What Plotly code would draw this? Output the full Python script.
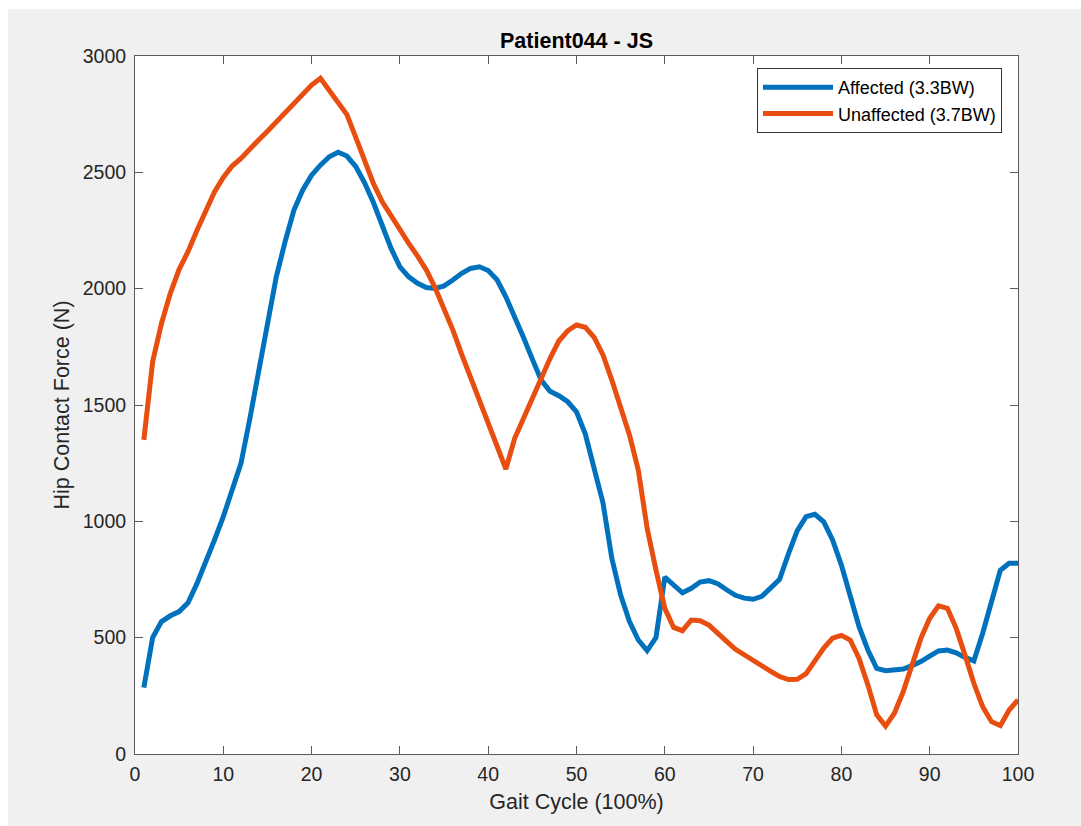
import plotly.graph_objects as go

gait = list(range(1, 101))

affected = [285, 500, 569, 594, 612, 650, 731, 819, 920, 1020,
            1132, 1249, 1440, 1650, 1851, 2051, 2202, 2338, 2424, 2488,
            2531, 2567, 2586, 2570, 2525, 2455, 2370, 2266, 2173, 2094,
            2051, 2023, 2005, 2001, 2012, 2037, 2066, 2087, 2094, 2078,
            2038, 1965, 1883, 1790, 1697, 1607, 1559, 1540, 1514, 1471,
            1375, 1229, 1079, 841, 683, 569, 490, 444, 500, 760,
            723, 693, 712, 739, 745, 732, 706, 682, 670, 665,
            678, 712, 751, 860, 960, 1020, 1030, 998, 920, 812,
            680, 547, 447, 368, 358, 361, 365, 380, 397, 421,
            443, 447, 435, 415, 400, 519, 654, 790, 820, 820]

unaffected = [1350, 1686, 1851, 1980, 2083, 2159, 2249, 2335, 2416, 2478,
              2527, 2560, 2603, 2639, 2677, 2717, 2760, 2800, 2839, 2875,
              2904, 2853, 2803, 2748, 2650, 2545, 2452, 2373, 2312, 2252,
              2195, 2140, 2080, 2003, 1916, 1822, 1718, 1621, 1521, 1428,
              1320, 1225, 1357, 1445, 1531, 1621, 1700, 1775, 1819, 1844,
              1834, 1791, 1715, 1607, 1492, 1371, 1220, 970, 791, 626,
              544, 530, 576, 573, 554, 522, 484, 450, 425, 404,
              380, 355, 333, 320, 321, 345, 400, 455, 498, 510,
              490, 411, 297, 168, 120, 175, 268, 390, 497, 583,
              637, 626, 540, 425, 304, 203, 139, 122, 189, 232]

x_ticks = [0, 10, 20, 30, 40, 50, 60, 70, 80, 90, 100]
y_ticks = [0, 500, 1000, 1500, 2000, 2500, 3000]

FONT = "Liberation Sans, Arial, Helvetica, sans-serif"
AX = "#5a5a5a"
TXT = "#262626"

fig = go.Figure()
fig.add_trace(go.Scatter(x=gait, y=affected, mode="lines", name="Affected (3.3BW)",
                         line=dict(color="#0072BD", width=5)))
fig.add_trace(go.Scatter(x=gait, y=unaffected, mode="lines", name="Unaffected (3.7BW)",
                         line=dict(color="#E84E0F", width=5)))

axis_common = dict(showline=True, linecolor=AX, linewidth=1, mirror="ticks",
                   ticks="inside", ticklen=8, tickcolor=AX, tickwidth=1,
                   showgrid=False, zeroline=False,
                   tickfont=dict(family=FONT, size=19.5, color=TXT))

fig.update_xaxes(range=[0, 100], tickvals=x_ticks, ticklabelstandoff=3,
                 title=dict(text="Gait Cycle (100%)", font=dict(family=FONT, size=21.5, color=TXT),
                            standoff=9),
                 **axis_common)
fig.update_yaxes(range=[0, 3000], tickvals=y_ticks, ticklabelstandoff=4,
                 title=dict(text="Hip Contact Force (N)", font=dict(family=FONT, size=21.5, color=TXT),
                            standoff=7),
                 **axis_common)

W, H = 1081, 826
L, R, T, B = 135, 1081 - 1018, 56, 826 - 754
pw, ph = W - L - R, H - T - B

def px(xp):
    return (xp - L) / pw

def py(yp):
    return (H - B - yp) / ph

fig.update_layout(
    width=W, height=H,
    margin=dict(l=L, r=R, t=T, b=B, pad=0),
    paper_bgcolor="#f0f0f0", plot_bgcolor="white",
    font=dict(family=FONT, color=TXT),
    title=dict(text="<b>Patient044 - JS</b>", x=0.5, xref="paper", xanchor="center",
               y=1 - 40 / H, yref="container", yanchor="middle",
               font=dict(family=FONT, size=21.5, color="black")),
    legend=dict(x=px(1002), xanchor="right", y=py(68), yanchor="top",
                bgcolor="white", bordercolor="#333333", borderwidth=1,
                font=dict(family=FONT, size=18, color="black"),
                tracegroupgap=0, itemwidth=70),
    showlegend=True,
    shapes=[
        dict(type="rect", xref="paper", yref="paper", x0=px(0), x1=px(8), y0=py(H), y1=py(0),
             fillcolor="white", line=dict(width=0)),
        dict(type="rect", xref="paper", yref="paper", x0=px(0), x1=px(W), y0=py(9), y1=py(0),
             fillcolor="white", line=dict(width=0)),
    ],
)

fig.write_html("out.html")
